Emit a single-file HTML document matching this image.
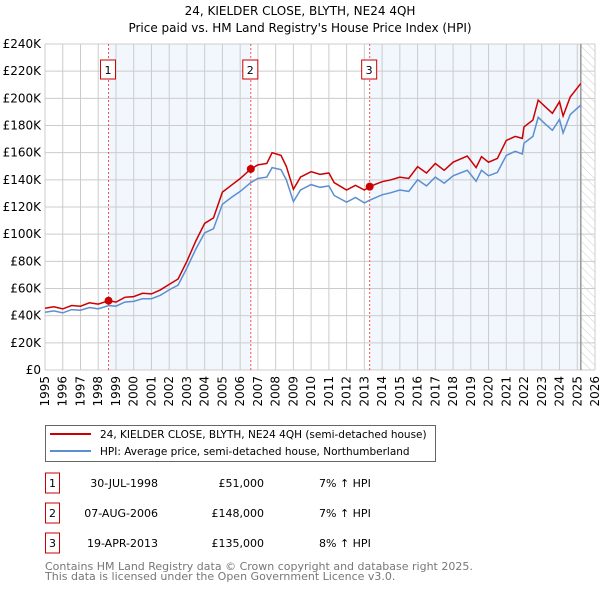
<!DOCTYPE html>
<html><head><meta charset="utf-8"><style>
body{margin:0;background:#fff;}
svg text{font-family:"DejaVu Sans","Liberation Sans",sans-serif;}
</style></head><body>
<svg id="chart" width="600" height="590" viewBox="0 0 600 590" xmlns="http://www.w3.org/2000/svg">
<defs>
<pattern id="hatch" width="6" height="6" patternUnits="userSpaceOnUse" patternTransform="rotate(-45)">
<line x1="0" y1="0" x2="0" y2="6" stroke="#ccc" stroke-width="1"/>
</pattern>
</defs>
<text x="300" y="15" text-anchor="middle" font-size="12">24, KIELDER CLOSE, BLYTH, NE24 4QH</text>
<text x="300" y="32" text-anchor="middle" font-size="12">Price paid vs. HM Land Registry's House Price Index (HPI)</text>
<g id="plot"></g>
<g id="legend">
<rect x="45.5" y="425.5" width="390" height="36" fill="#fff" stroke="#666"/>
<line x1="50" y1="434" x2="91" y2="434" stroke="#cc0000" stroke-width="2"/>
<text x="100" y="438" font-size="10.5">24, KIELDER CLOSE, BLYTH, NE24 4QH (semi-detached house)</text>
<line x1="50" y1="451" x2="91" y2="451" stroke="#5b8fd0" stroke-width="2"/>
<text x="100" y="455" font-size="10.5">HPI: Average price, semi-detached house, Northumberland</text>
</g>
<g id="table"></g>
<text x="45" y="570" font-size="11" fill="#777">Contains HM Land Registry data © Crown copyright and database right 2025.</text>
<text x="45" y="580" font-size="11" fill="#777">This data is licensed under the Open Government Licence v3.0.</text>
</svg>
<script>
const yearTicks=[1995,1996,1997,1998,1999,2000,2001,2002,2003,2004,2005,2006,2007,2008,2009,2010,2011,2012,2013,2014,2015,2016,2017,2018,2019,2020,2021,2022,2023,2024,2025,2026];
const valueTicks=[0,20000,40000,60000,80000,100000,120000,140000,160000,180000,200000,220000,240000];
const valueLabels=["£0","£20K","£40K","£60K","£80K","£100K","£120K","£140K","£160K","£180K","£200K","£220K","£240K"];
const dates=[1995,1995.5,1996,1996.5,1997,1997.5,1998,1998.6,1999,1999.5,2000,2000.5,2001,2001.5,2002,2002.5,2003,2003.5,2004,2004.5,2005,2005.5,2006,2006.6,2007,2007.5,2007.8,2008.3,2008.6,2009,2009.4,2010,2010.5,2011,2011.3,2012,2012.5,2013,2013.3,2014,2014.5,2015,2015.5,2016,2016.5,2017,2017.5,2018,2018.8,2019.3,2019.6,2020,2020.5,2021,2021.5,2021.9,2022,2022.5,2022.8,2023.2,2023.6,2024,2024.2,2024.6,2025.2];
const priceSeries=[45500,46500,45000,47500,47000,49500,48500,51000,50000,53500,54000,56500,56000,59000,63000,67000,80000,95000,108000,112000,131000,136000,141000,148000,151000,152000,160000,158000,150000,133000,142000,146000,144000,145000,137900,132500,136000,132500,135000,138600,140000,142000,141000,149700,145000,152000,147000,153000,157500,149000,157000,153000,155800,169000,172000,170500,179000,184000,198700,193800,189000,197500,187000,201000,211000];
const hpiSeries=[42500,43500,42000,44500,44000,46000,45000,47500,47000,50000,50500,52500,52500,55000,59000,62500,75000,89000,101000,104000,122000,127000,131500,138000,141000,142000,149000,147500,140000,124000,132500,136500,134500,135500,128500,123500,127000,123000,125000,129000,130500,132500,131500,140000,135500,142000,137500,143000,147000,139000,147000,143000,145500,158000,161000,159000,167000,172000,186000,181000,176500,184500,174500,188000,195000];
const saleDates=[1998.58,2006.6,2013.3];
const salePrices=[51000,148000,135000];
const saleDateLabels=["30-JUL-1998","07-AUG-2006","19-APR-2013"];
const salePriceLabels=["£51,000","£148,000","£135,000"];
const salePctLabels=["7% ↑ HPI","7% ↑ HPI","8% ↑ HPI"];
const dataEnd=2025.2;

const NS="http://www.w3.org/2000/svg";
const L=45,R=595,T=44,B=370;
const x=v=>L+(v-1995)/(2026-1995)*(R-L);
const y=v=>B-v/240000*(B-T);
const plot=document.getElementById('plot');
function mk(tag,attrs,parent){const e=document.createElementNS(NS,tag);for(const k in attrs)e.setAttribute(k,attrs[k]);(parent||plot).appendChild(e);return e;}

let r=mk('rect',{x:x(saleDates[0]),y:T,width:x(saleDates[1])-x(saleDates[0]),height:B-T,fill:'#f2f6fd'});


r=mk('rect',{x:x(saleDates[2]),y:T,width:x(dataEnd)-x(saleDates[2]),height:B-T,fill:'#f2f6fd'});


r=mk('rect',{x:x(dataEnd),y:T,width:R-x(dataEnd),height:B-T,fill:'url(#hatch)'});



yearTicks.forEach(t=>{
 const g=mk('line',{x1:x(t),x2:x(t),y1:T,y2:B,stroke:'#ccc','stroke-width':1});
 
 
 const tx=mk('text',{x:0,y:0,'font-size':12,'text-anchor':'end',transform:`translate(${x(t)+4},${B+6}) rotate(-90)`});
 tx.textContent=t;
 
 
});
valueTicks.forEach((v,i)=>{
 const g=mk('line',{x1:L,x2:R,y1:y(v),y2:y(v),stroke:'#ccc','stroke-width':1});
 
 
 const tx=mk('text',{x:L-4,y:y(v)+4,'font-size':12,'text-anchor':'end'});
 tx.textContent=valueLabels[i];
 
 
});
let el=mk('line',{x1:x(dataEnd),x2:x(dataEnd),y1:T,y2:B,stroke:'#999','stroke-width':1.5});



const pts=s=>s.map((v,i)=>x(dates[i]).toFixed(1)+','+y(v).toFixed(1)).join(' ');
el=mk('polyline',{points:pts(hpiSeries),fill:'none',stroke:'#5b8fd0','stroke-width':1.5});


el=mk('polyline',{points:pts(priceSeries),fill:'none',stroke:'#cc0000','stroke-width':1.5});



saleDates.forEach((d,i)=>{
 const ln=mk('line',{x1:x(d),x2:x(d),y1:T,y2:B,stroke:'#e55','stroke-width':1,'stroke-dasharray':'2,2'});
 
 
 const b=mk('rect',{x:x(d)-8,y:60,width:15,height:19,fill:'#fff',stroke:'#cc0000'});
 
 
 const t=mk('text',{x:x(d)-0.5,y:74,'font-size':11,'text-anchor':'middle'});
 t.textContent=i+1;
 
 
 const c=mk('circle',{cx:x(d),cy:y(salePrices[i]),r:4,fill:'#cc0000'});
 
 
});

const tbl=document.getElementById('table');
saleDates.forEach((d,i)=>{
 const cy=483+i*30;
 const b=mk('rect',{x:45.5,y:cy-10,width:14,height:20,fill:'#fff',stroke:'#cc0000'},tbl);
 
 
 let t=mk('text',{x:52.5,y:cy+4,'font-size':11,'text-anchor':'middle'},tbl);
 t.textContent=i+1;
 
 
 t=mk('text',{x:158,y:cy+4,'font-size':11,'text-anchor':'end'},tbl);
 t.textContent=saleDateLabels[i];
 
 
 t=mk('text',{x:264,y:cy+4,'font-size':11,'text-anchor':'end'},tbl);
 t.textContent=salePriceLabels[i];
 
 
 t=mk('text',{x:319,y:cy+4,'font-size':11},tbl);
 t.textContent=salePctLabels[i];
 
 
});
</script>
</body></html>
